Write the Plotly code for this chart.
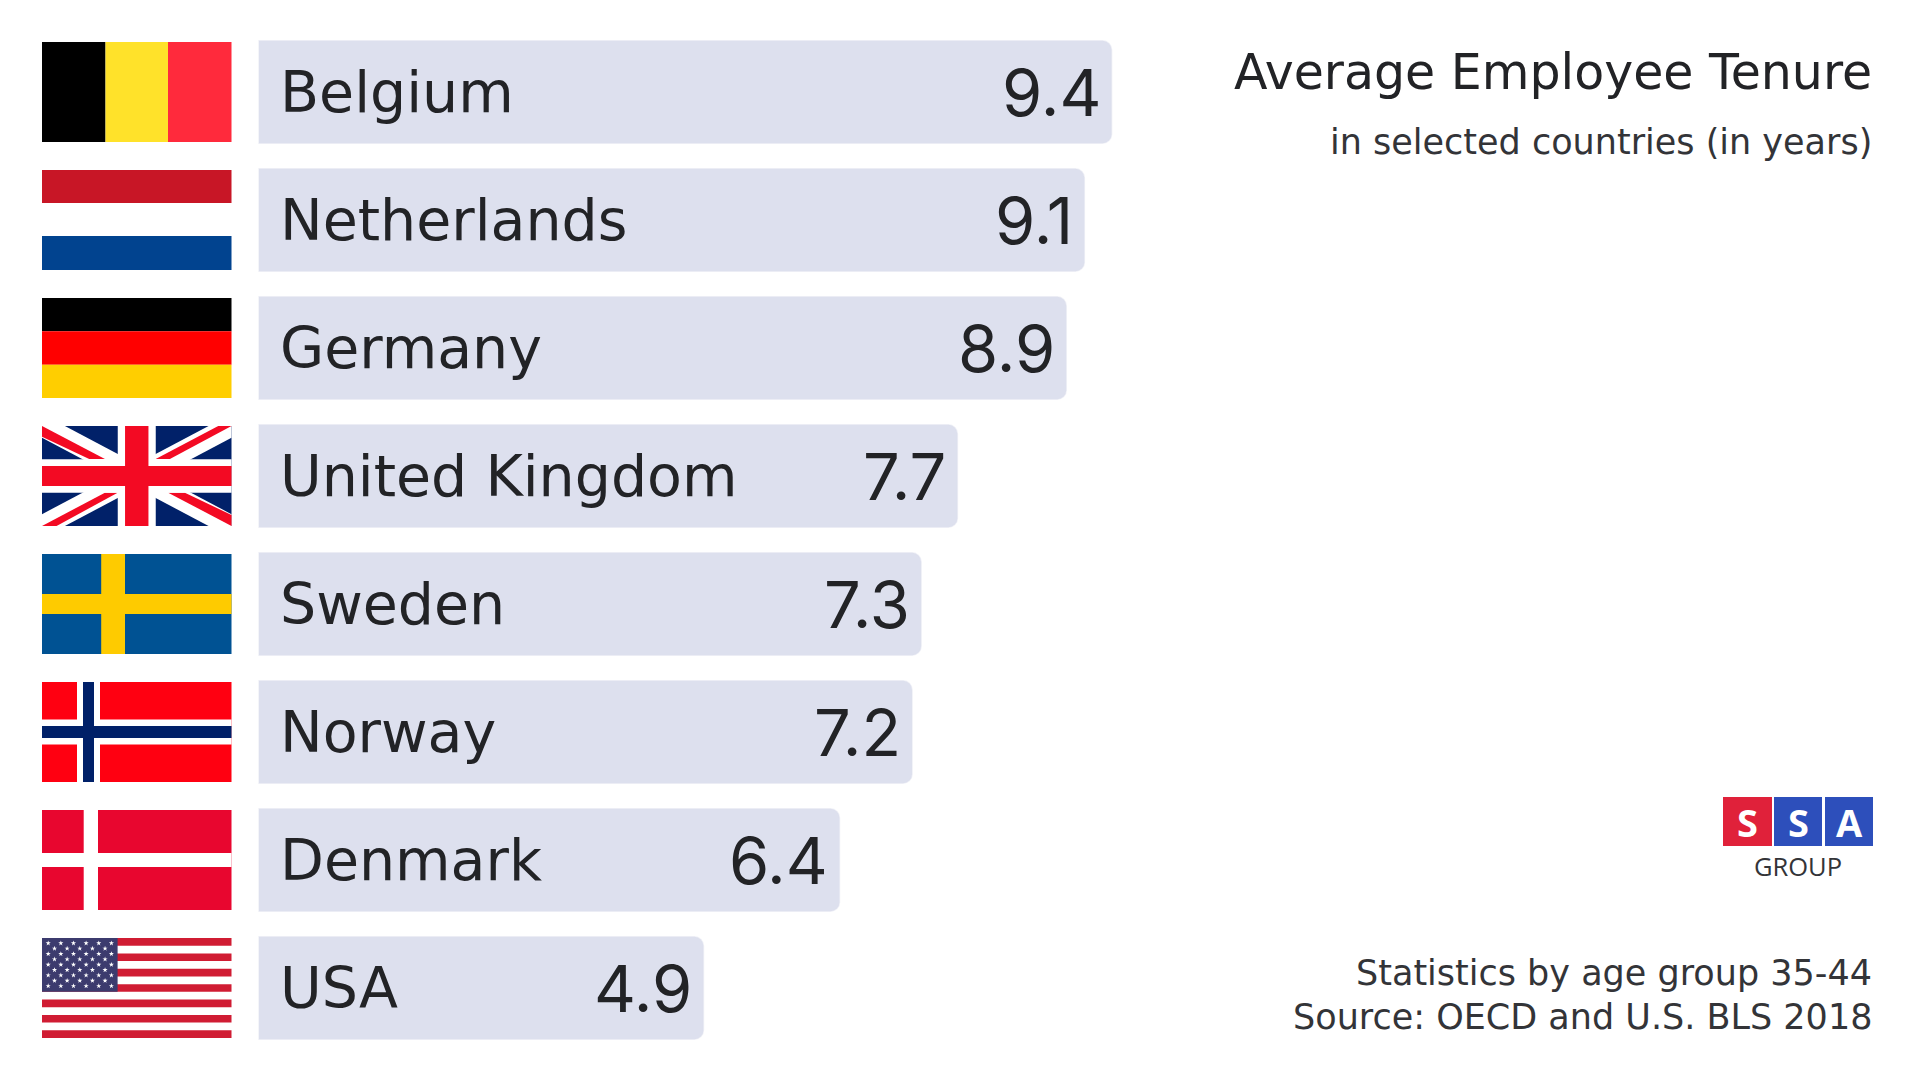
import plotly.graph_objects as go
import math

countries = ["Belgium", "Netherlands", "Germany", "United Kingdom", "Sweden", "Norway", "Denmark", "USA"]
tenure = [9.4, 9.1, 8.9, 7.7, 7.3, 7.2, 6.4, 4.9]
value_labels = ["9.4", "9.1", "8.9", "7.7", "7.3", "7.2", "6.4", "4.9"]

FONT = "DejaVu Sans"
NUM_FONT = "Inter"
W, H = 1920, 1080
PX_PER_UNIT = 90.7
X0, ROW0, ROW_H = 259, 92, 128
FX0, FX1 = 42, 231.5
FH = 100
TEXT = "#222326"

fig = go.Figure(go.Bar(
    x=tenure, y=countries, orientation="h",
    marker=dict(color="#DDE0EE", line=dict(color="rgba(221,224,238,0.45)", width=1.5)),
    hoverinfo="skip",
))

shapes = []
annots = []

def px(x): return x / W
def py(y): return 1 - y / H

def rect(l, t, r, b, c):
    shapes.append(dict(type="rect", xref="paper", yref="paper", x0=px(l), x1=px(r), y0=py(t), y1=py(b),
                       fillcolor=c, line=dict(width=0), layer="above"))

def poly(pts, c):
    d = "M " + " L ".join(f"{px(x):.6f},{py(y):.6f}" for x, y in pts) + " Z"
    shapes.append(dict(type="path", xref="paper", yref="paper", path=d, fillcolor=c, line=dict(width=0), layer="above"))

tops = [ROW0 - 50 + ROW_H * i for i in range(8)]

# Belgium
t = tops[0]
rect(FX0, t, 105.5, t + FH, "#000000")
rect(105.5, t, 168, t + FH, "#FFE22A")
rect(168, t, FX1, t + FH, "#FF2A3C")
# Netherlands
t = tops[1]
rect(FX0, t, FX1, t + 33, "#C81626")
rect(FX0, t + 66, FX1, t + FH, "#01438F")
# Germany
t = tops[2]
rect(FX0, t, FX1, t + 33.3, "#000000")
rect(FX0, t + 33.3, FX1, t + 66.7, "#FF0000")
rect(FX0, t + 66.7, FX1, t + FH, "#FFCE00")
# United Kingdom
t = tops[3]
fw = FX1 - FX0
cx, cy = FX0 + fw / 2, t + FH / 2
rect(FX0, t, FX1, t + FH, "#012169")
def u(a, b): return (FX0 + a * fw, t + b * FH)
d, dy = 0.121, 0.118
poly([u(0, 0), u(d, 0), u(1, 1 - dy), u(1, 1), u(1 - d, 1), u(0, dy)], "#FFFFFF")
poly([u(1, 0), u(1, dy), u(d, 1), u(0, 1), u(0, 1 - dy), u(1 - d, 0)], "#FFFFFF")
RED = "#F30A23"
poly([u(0, 0), u(0.332, 0.33), u(0.249, 0.33), u(0, 0.107)], RED)
poly([u(0.93, 0), u(1, 0), u(0.675, 0.33), u(0.60, 0.33)], RED)
poly([u(1, 1), u(1, 0.89), u(0.754, 0.667), u(0.666, 0.667)], RED)
poly([u(0, 1), u(0.077, 1), u(0.399, 0.667), u(0.332, 0.667)], RED)
rect(cx - 19, t, cx + 19, t + FH, "#FFFFFF")
rect(FX0, cy - 16.7, FX1, cy + 16.7, "#FFFFFF")
rect(cx - 11.7, t, cx + 11.7, t + FH, RED)
rect(FX0, cy - 10, FX1, cy + 10, RED)
# Sweden
t = tops[4]
rect(FX0, t, FX1, t + FH, "#005293")
rect(101.2, t, 125, t + FH, "#FECB00")
rect(FX0, t + 40, FX1, t + 60, "#FECB00")
# Norway
t = tops[5]
rect(FX0, t, FX1, t + FH, "#FF0011")
rect(77, t, 100, t + FH, "#FFFFFF")
rect(FX0, t + 37.5, FX1, t + 62.5, "#FFFFFF")
rect(83, t, 94, t + FH, "#002068")
rect(FX0, t + 44, FX1, t + 56, "#002068")
# Denmark
t = tops[6]
rect(FX0, t, FX1, t + FH, "#E8062F")
rect(83.7, t, 98, t + FH, "#FFFFFF")
rect(FX0, t + 43, FX1, t + 57, "#FFFFFF")
# USA
t = tops[7]
stripe = FH / 13
for k in range(0, 13, 2):
    rect(FX0, t + k * stripe, FX1, t + (k + 1) * stripe, "#D01C33")
rect(FX0, t, 117.6, t + 7 * stripe, "#3C3B6E")
star_d = []
for r in range(9):
    n = 6 if r % 2 == 0 else 5
    x_start = 48.2 if r % 2 == 0 else 54.5
    for c in range(n):
        sx = x_start + c * 12.64
        sy = t + 5.2 + r * 5.35
        pts = []
        for k in range(10):
            rad = 2.7 if k % 2 == 0 else 1.05
            a = -math.pi / 2 + k * math.pi / 5
            pts.append(f"{px(sx + rad * math.cos(a)):.6f},{py(sy + rad * math.sin(a)):.6f}")
        star_d.append("M " + " L ".join(pts) + " Z")
shapes.append(dict(type="path", xref="paper", yref="paper", path=" ".join(star_d),
                   fillcolor="#FFFFFF", line=dict(width=0), layer="above"))

# bar labels
for name, val, lab in zip(countries, tenure, value_labels):
    annots.append(dict(x=0, y=name, xref="x", yref="y", text=name, showarrow=False, xanchor="left",
                       xshift=19, font=dict(family=FONT, size=57, color=TEXT)))
    annots.append(dict(x=val, y=name, xref="x", yref="y", text=lab, showarrow=False, xanchor="right",
                       xshift=-9, font=dict(family=NUM_FONT, size=65, color=TEXT)))

def note(text, x, y, size, anchor="right", color=TEXT, family=FONT):
    annots.append(dict(x=px(x), y=py(y), xref="paper", yref="paper", text=text, showarrow=False,
                       xanchor=anchor, yanchor="middle", font=dict(family=family, size=size, color=color)))

note("Average Employee Tenure", 1874, 72.5, 49)
note("in selected countries (in years)", 1874, 142, 35, color="#333438")
note("Statistics by age group 35-44", 1874, 973, 35, color="#333438")
note("Source: OECD and U.S. BLS 2018", 1874, 1017, 35, color="#333438")

# logo
rect(1723, 797, 1772, 846, "#E0213A")
rect(1774, 797, 1822, 846, "#2D4FBB")
rect(1825, 797, 1873, 846, "#2D4FBB")
for ch, lx in zip("SSA", [1747.5, 1798, 1849]):
    note(f"<b>{ch}</b>", lx, 822, 38, anchor="center", color="#FFFFFF", family="Open Sans")
note("GROUP", 1797.5, 866, 25.5, anchor="center", color="#333438", family="Open Sans")

fig.update_layout(
    width=W, height=H, margin=dict(l=0, r=0, t=0, b=0),
    paper_bgcolor="#FFFFFF", plot_bgcolor="#FFFFFF",
    showlegend=False, barcornerradius=9, bargap=0.2,
    xaxis=dict(range=[-X0 / PX_PER_UNIT, (W - X0) / PX_PER_UNIT], visible=False, fixedrange=True),
    yaxis=dict(range=[(H - ROW0) / ROW_H, -ROW0 / ROW_H], visible=False, fixedrange=True, type="category",
               categoryorder="array", categoryarray=countries),
    shapes=shapes, annotations=annots,
)

fig.write_html("out.html", config={"displayModeBar": False},
               post_script="document.body.style.margin='0';document.documentElement.style.overflow='hidden';")
